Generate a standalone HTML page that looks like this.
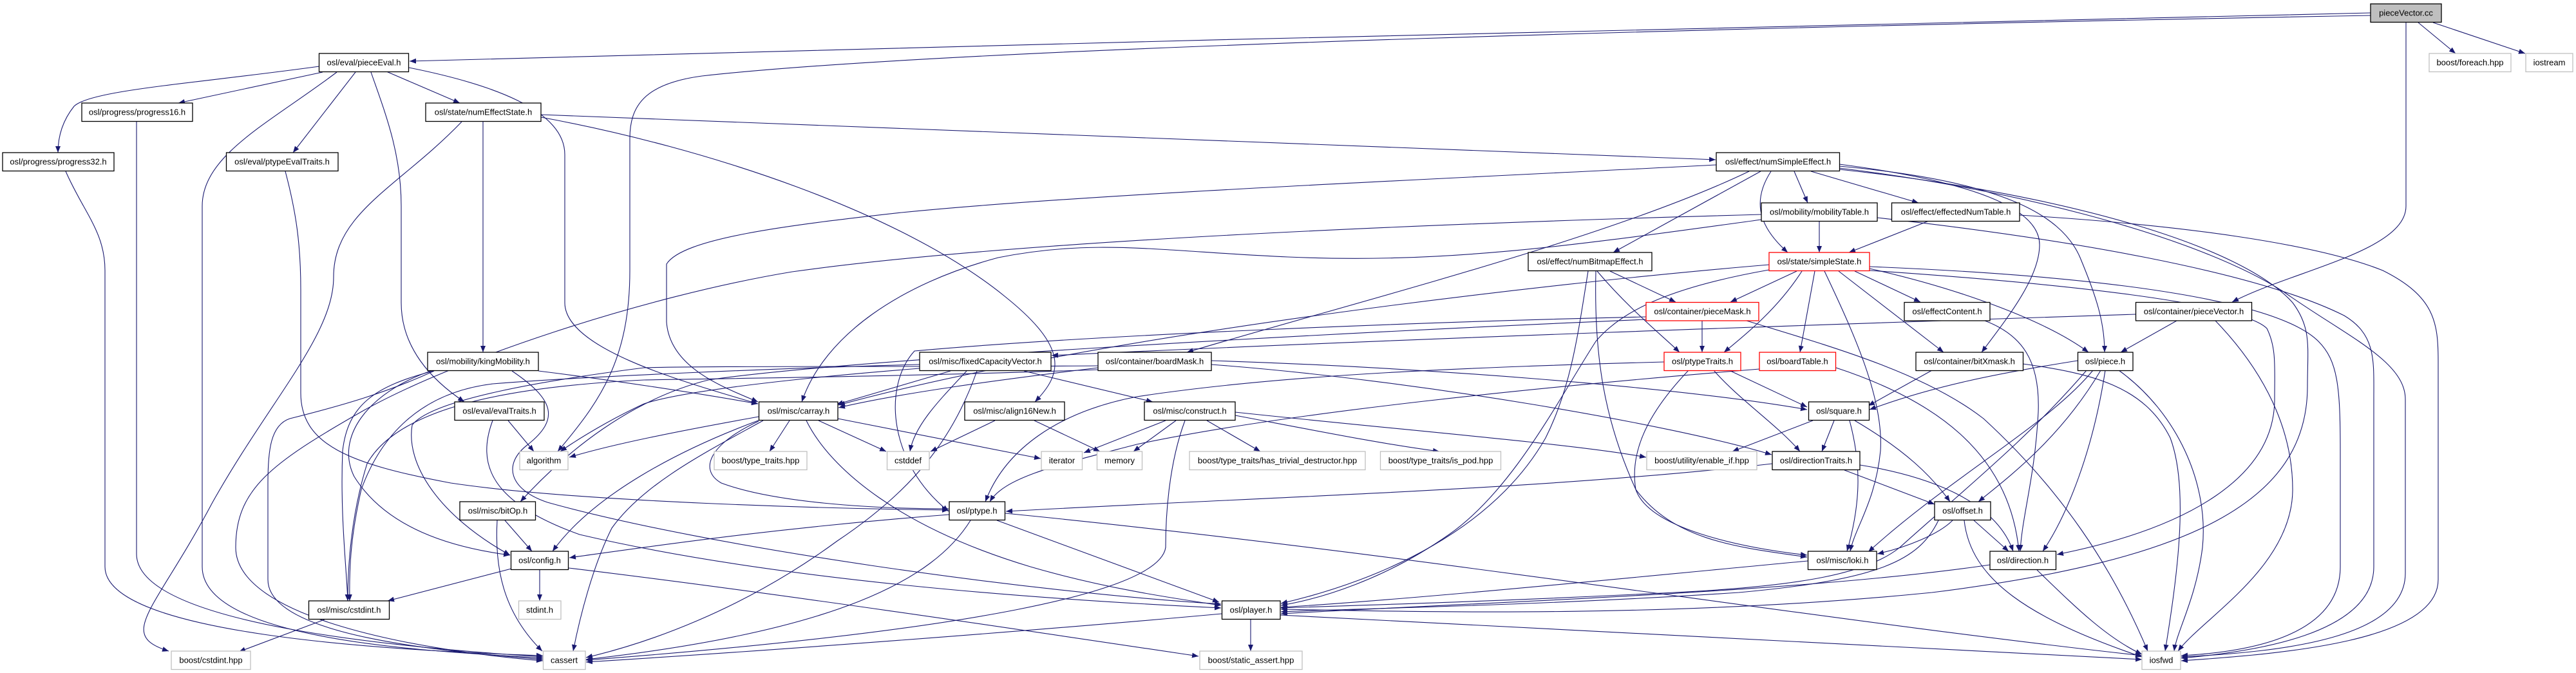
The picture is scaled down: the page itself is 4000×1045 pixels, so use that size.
<!DOCTYPE html>
<html>
<head>
<meta charset="utf-8">
<style>
html,body{margin:0;padding:0;background:#ffffff;}
svg{display:block;}
text{font-family:"Liberation Sans",Arial,sans-serif;font-size:13px;fill:#000;}
</style>
</head>
<body>
<svg width="4000" height="1045" viewBox="0 0 4000 1045" xmlns="http://www.w3.org/2000/svg">
<defs>
<marker id="a" markerWidth="11" markerHeight="8" refX="10" refY="4" orient="auto" markerUnits="userSpaceOnUse">
<path d="M0,0 L10,4 L0,8 z" fill="#191970"/>
</marker>
</defs>
<rect x="0" y="0" width="4000" height="1045" fill="#ffffff"/>
<g fill="none" stroke="#191970" stroke-width="1.1" marker-end="url(#a)">
<!-- pieceVector.cc -->
<path d="M3681,20 C2900,33 1600,70 636,95"/>
<path d="M3681,24 C2800,40 1500,72 1090,118 C1000,130 978,165 978,215 L978,420 C978,560 930,625 866,701"/>
<path d="M3755,35 L3813,83"/>
<path d="M3778,35 L3921,83"/>
<path d="M3736,35 L3736,320 C3736,390 3560,420 3466,469"/>
<!-- pieceEval -->
<path d="M496,103 C300,130 140,140 115,165 C95,190 90,215 90,237"/>
<path d="M501,112 L277,160"/>
<path d="M523,112 C420,190 314,240 314,320 L314,880 C314,1000 700,1012 843,1022"/>
<path d="M552,112 L455,237"/>
<path d="M576,112 C600,180 623,240 623,320 L623,470 C623,540 670,590 721,624"/>
<path d="M600,111 L714,160"/>
<path d="M635,105 C760,130 877,170 877,240 L877,470 C877,540 1050,590 1177,627"/>
<!-- numEffectState -->
<path d="M840,178 L2664,248"/>
<path d="M840,182 C1100,230 1400,330 1560,460 C1660,540 1650,580 1607,624"/>
<path d="M750,189 L750,547"/>
<path d="M717,189 C620,290 518,330 518,430 C518,520 420,620 330,780 C240,950 180,985 262,1011"/>
<!-- progress -->
<path d="M212,189 L212,860 C212,970 620,1005 843,1020"/>
<path d="M102,266 C130,330 163,360 163,420 L163,880 C163,985 600,1010 843,1018"/>
<!-- ptypeEvalTraits -->
<path d="M443,266 C460,330 467,380 467,450 L467,610 C467,690 540,720 700,750 C900,780 1300,790 1473,792"/>
<!-- mobilityTable -->
<path d="M2825,343 L2825,392"/>
<path d="M2735,333 C2300,345 1600,370 1230,422 C1000,460 700,560 560,640 C420,720 366,760 366,850 C366,960 650,1010 843,1026"/>
<path d="M2735,341 C2450,380 2250,410 2000,399 C1800,390 1700,370 1550,400 C1400,440 1280,520 1245,624"/>
<path d="M2915,338 C3200,370 3500,420 3640,490 C3690,520 3686,560 3686,620 L3686,880 C3686,985 3500,1012 3387,1022"/>
<!-- effectedNumTable -->
<path d="M2995,343 L2871,392"/>
<path d="M3136,334 C3400,350 3600,380 3700,420 C3780,460 3786,500 3786,560 L3786,900 C3786,995 3550,1015 3387,1026"/>
<!-- numSimpleEffect -->
<path d="M2786,266 L2807,315"/>
<path d="M2812,266 L2979,315"/>
<path d="M2750,266 C2715,320 2740,360 2776,392"/>
<path d="M2734,266 L2505,392"/>
<path d="M2716,266 C2500,370 2100,470 1843,547"/>
<path d="M2665,256 C2300,275 1700,300 1400,330 C1220,350 1060,370 1035,410 L1035,500 C1040,570 1120,600 1177,624"/>
<path d="M2856,255 C3050,280 3167,320 3167,380 C3167,430 3120,490 3077,547"/>
<path d="M2856,258 C3100,280 3200,330 3230,400 C3255,460 3268,500 3268,547"/>
<path d="M2856,261 C3100,290 3400,360 3546,453 C3640,520 3735,560 3735,620 L3735,890 C3735,990 3550,1012 3387,1020"/>
<path d="M2856,263 C3200,300 3480,380 3560,470 C3590,510 3583,540 3583,600 C3583,780 3400,870 3000,920 C2600,960 2200,950 1989,946"/>
<!-- simpleState -->
<path d="M2790,421 L2687,469"/>
<path d="M2798,421 C2760,480 2710,520 2677,547"/>
<path d="M2818,421 L2795,547"/>
<path d="M2833,421 C2880,520 2925,620 2920,700 C2912,780 2880,820 2873,856"/>
<path d="M2855,421 L3018,547"/>
<path d="M2880,421 L2982,469"/>
<path d="M2903,417 C3050,450 3180,500 3243,547"/>
<path d="M2747,411 C2400,440 1700,520 1302,629"/>
<path d="M2747,419 C2600,445 2520,480 2478,530 C2420,620 2350,760 2250,830 C2150,900 2050,930 1989,940"/>
<path d="M2903,420 C3200,440 3480,470 3520,510 C3535,540 3532,570 3532,620 C3532,740 3400,820 3194,861"/>
<path d="M2903,414 C3300,430 3540,470 3600,530 C3630,560 3634,600 3634,700 L3634,880 C3634,985 3500,1012 3387,1018"/>
<!-- numBitmapEffect -->
<path d="M2500,421 L2602,469"/>
<path d="M2480,421 C2530,480 2580,520 2608,547"/>
<path d="M2466,421 C2450,520 2440,600 2400,680 C2320,820 2150,900 1989,937"/>
<path d="M2478,421 C2475,550 2490,650 2540,760 C2600,840 2700,850 2806,865"/>
<!-- pieceMask -->
<path d="M2643,498 L2643,547"/>
<path d="M2556,492 C2200,500 1700,520 1420,545 C1370,600 1380,720 1473,794"/>
<path d="M2556,496 C2000,520 1300,560 1100,590 C980,620 880,700 808,779"/>
<path d="M2712,498 C2850,540 2990,580 3080,650 C3200,760 3280,880 3335,1011"/>
<!-- pieceVector.h -->
<path d="M3380,498 L3293,547"/>
<path d="M3316,488 C2800,505 2200,525 1633,552"/>
<path d="M3440,498 C3500,560 3560,650 3560,760 C3560,880 3420,960 3382,1011"/>
<!-- effectContent -->
<path d="M3082,498 C3140,520 3168,560 3165,640 C3160,740 3140,800 3137,856"/>
<!-- ptypeTraits -->
<path d="M2685,575 L2806,632"/>
<path d="M2661,575 C2700,620 2760,660 2795,701"/>
<path d="M2622,575 C2560,640 2530,700 2540,760 C2560,820 2700,850 2806,862"/>
<path d="M2584,562 C2300,570 2000,580 1765,616 C1640,640 1560,700 1530,779"/>
<!-- boardTable -->
<path d="M2851,571 C3000,620 3120,700 3135,856"/>
<path d="M2732,573 C2400,600 2000,640 1765,690 C1650,720 1560,740 1537,779"/>
<!-- bitXmask -->
<path d="M3000,575 L2901,630"/>
<path d="M3141,565 C3250,580 3330,600 3370,680 C3400,760 3380,900 3362,1011"/>
<!-- piece -->
<path d="M3226,560 C3100,580 3000,600 2903,636"/>
<path d="M3262,575 C3200,680 3120,740 3072,779"/>
<path d="M3250,575 C3180,660 3030,740 2901,857"/>
<path d="M3269,575 C3250,700 3210,800 3172,856"/>
<path d="M3240,575 C3150,680 3050,760 2950,850 C2900,890 2800,910 2600,920 C2300,935 2100,940 1989,944"/>
<path d="M3290,575 C3380,640 3430,750 3420,850 C3410,930 3380,980 3376,1011"/>
<!-- square -->
<path d="M2815,653 L2690,701"/>
<path d="M2848,653 L2829,701"/>
<path d="M2872,653 C2890,720 2890,780 2868,856"/>
<path d="M2880,653 C2960,700 3000,740 3028,779"/>
<!-- directionTraits -->
<path d="M2752,720 C2400,760 2000,770 1562,794"/>
<path d="M2864,730 L3004,783"/>
<path d="M2888,722 C3000,740 3100,780 3126,856"/>
<!-- offset -->
<path d="M3065,808 L3119,856"/>
<path d="M3032,808 C3010,830 2960,850 2915,860"/>
<path d="M3010,808 C2980,870 2920,900 2700,920 C2400,940 2100,945 1989,950"/>
<path d="M3050,808 C3060,900 3150,960 3326,1020"/>
<!-- direction -->
<path d="M3163,885 C3220,940 3270,990 3326,1016"/>
<path d="M3090,877 C2800,920 2300,935 1989,953"/>
<!-- loki -->
<path d="M2807,871 C2500,900 2200,930 1989,943"/>
<!-- ptype -->
<path d="M1474,799 C1200,820 1000,850 884,866"/>
<path d="M1507,808 C1450,900 1300,980 910,1024"/>
<path d="M1548,808 L1893,935"/>
<path d="M1561,797 C2200,860 2800,960 3326,1018"/>
<!-- player -->
<path d="M1942,962 L1942,1011"/>
<path d="M1897,953 C1600,980 1200,1010 910,1028"/>
<path d="M1988,955 C2500,980 3000,1010 3326,1024"/>
<!-- carray -->
<path d="M1226,653 L1195,701"/>
<path d="M1271,653 L1376,701"/>
<path d="M1301,650 L1616,712"/>
<path d="M1178,647 C1050,670 950,690 884,710"/>
<path d="M1178,654 C1100,690 1085,730 1120,750 C1200,780 1350,790 1473,790"/>
<path d="M1180,652 C1050,700 920,770 858,856"/>
<path d="M1252,653 C1290,730 1400,820 1600,880 C1720,915 1830,930 1896,940"/>
<path d="M1185,653 C1100,700 1000,750 950,820 C920,880 900,960 890,1011"/>
<!-- fixedCapacityVector -->
<path d="M1476,576 L1299,628"/>
<path d="M1501,576 C1460,620 1420,660 1413,701"/>
<path d="M1590,576 L1790,624"/>
<path d="M1517,576 C1480,680 1420,760 1300,840 C1150,950 1000,1000 910,1021"/>
<path d="M1428,566 C1200,572 900,585 765,596 C650,610 590,680 561,760 C545,830 542,880 543,933"/>
<path d="M1428,572 C1200,590 1050,610 1000,627 C950,650 900,680 870,701"/>
<!-- boardMask -->
<path d="M1705,571 C1550,590 1400,610 1302,633"/>
<path d="M1705,568 C1400,570 1100,568 1000,571 C850,590 670,620 640,660 C630,720 680,800 792,862"/>
<path d="M1705,574 C1400,585 1100,588 1000,590 C800,600 620,630 570,720 C545,800 540,880 540,933"/>
<path d="M1881,560 C2200,570 2600,600 2806,636"/>
<path d="M1881,566 C2200,590 2600,660 2751,706"/>
<!-- construct -->
<path d="M1810,653 L1683,703"/>
<path d="M1826,653 L1760,701"/>
<path d="M1874,653 L1957,701"/>
<path d="M1918,645 C2050,670 2150,690 2235,701"/>
<path d="M1918,640 C2200,670 2450,690 2556,710"/>
<path d="M1840,653 C1815,720 1810,800 1810,850 C1800,920 1500,980 910,1025"/>
<!-- align16New -->
<path d="M1545,653 L1445,701"/>
<path d="M1606,653 L1708,701"/>
<!-- evalTraits -->
<path d="M789,653 L829,701"/>
<path d="M765,653 C740,720 760,780 900,830 C1200,900 1600,930 1896,944"/>
<!-- kingMobility -->
<path d="M674,576 C600,610 530,630 450,650 C420,660 416,700 416,750 L416,900 C416,990 700,1012 843,1024"/>
<path d="M673,576 C580,600 540,630 532,700 C528,800 538,880 540,933"/>
<path d="M669,576 C570,610 520,680 550,740 C600,820 700,850 792,862"/>
<path d="M795,576 C860,620 870,650 820,690 C780,720 790,760 850,780 C1100,850 1600,920 1896,938"/>
<path d="M836,576 C950,590 1080,610 1177,627"/>
<!-- bitOp -->
<path d="M784,808 L826,856"/>
<path d="M772,808 C768,880 780,950 842,1011"/>
<!-- config -->
<path d="M838,885 L838,933"/>
<path d="M794,883 L602,933"/>
<path d="M883,882 C1200,920 1600,980 1861,1019"/>
<!-- cstdint -->
<path d="M504,962 L371,1012"/>
</g>

<!-- nodes: internal -->
<g fill="#ffffff" stroke="#000000" stroke-width="1.3">
<rect x="3681" y="6" width="110" height="28.5" fill="#bfbfbf"/>
<rect x="495.5" y="83" width="139" height="28.5"/>
<rect x="127" y="160" width="172" height="28.5"/>
<rect x="661" y="160" width="179" height="28.5"/>
<rect x="4" y="237" width="173" height="28.5"/>
<rect x="351.5" y="237" width="173.5" height="28.5"/>
<rect x="2665" y="237" width="191.5" height="28.5"/>
<rect x="2735" y="315" width="180" height="28.5"/>
<rect x="2937.5" y="315" width="198.5" height="28.5"/>
<rect x="2373" y="392" width="192" height="28.5"/>
<rect x="2957" y="469.5" width="133" height="28.5"/>
<rect x="3316.5" y="469.5" width="180" height="28.5"/>
<rect x="664" y="547" width="172" height="28.5"/>
<rect x="1428" y="547" width="204" height="28.5"/>
<rect x="1705" y="547" width="176" height="28.5"/>
<rect x="2975" y="547" width="166.5" height="28.5"/>
<rect x="3226.5" y="547" width="85.5" height="28.5"/>
<rect x="706" y="624" width="139" height="28.5"/>
<rect x="1178.5" y="624" width="122.5" height="28.5"/>
<rect x="1498" y="624" width="155" height="28.5"/>
<rect x="1777" y="624" width="141" height="28.5"/>
<rect x="2808.5" y="624" width="94" height="28.5"/>
<rect x="2752" y="701" width="136" height="28.5"/>
<rect x="714" y="779" width="117.5" height="28.5"/>
<rect x="1474" y="779" width="86.5" height="28.5"/>
<rect x="3004" y="779" width="87" height="28.5"/>
<rect x="793.5" y="856" width="89" height="28.5"/>
<rect x="2807.5" y="856" width="106.5" height="28.5"/>
<rect x="3090" y="856" width="102.5" height="28.5"/>
<rect x="479.5" y="933" width="125" height="28.5"/>
<rect x="1897.5" y="933" width="90.5" height="28.5"/>
</g>
<!-- nodes: truncated (red) -->
<g fill="#ffffff" stroke="#ff0000" stroke-width="1.3">
<rect x="2747" y="392" width="156" height="28.5"/>
<rect x="2556" y="469.5" width="175" height="28.5"/>
<rect x="2584" y="547" width="119" height="28.5"/>
<rect x="2732" y="547" width="118.5" height="28.5"/>
</g>
<!-- nodes: external -->
<g fill="#ffffff" stroke="#bfbfbf" stroke-width="1.3">
<rect x="3772" y="83" width="127" height="28.5"/>
<rect x="3922" y="83" width="73" height="28.5"/>
<rect x="807" y="701" width="75" height="28.5"/>
<rect x="1109" y="701" width="144" height="28.5"/>
<rect x="1377.5" y="701" width="65.5" height="28.5"/>
<rect x="1617" y="701" width="63.5" height="28.5"/>
<rect x="1703.5" y="701" width="70" height="28.5"/>
<rect x="1847" y="701" width="273" height="28.5"/>
<rect x="2143.5" y="701" width="187" height="28.5"/>
<rect x="2557" y="701" width="171" height="28.5"/>
<rect x="805.5" y="933" width="65.5" height="28.5"/>
<rect x="266" y="1011" width="123" height="28.5"/>
<rect x="843.5" y="1011" width="65.5" height="28.5"/>
<rect x="1863" y="1011" width="159" height="28.5"/>
<rect x="3326" y="1011" width="60" height="28.5"/>
</g>

<g text-anchor="middle">
<text x="3736" y="24.5">pieceVector.cc</text>
<text x="565" y="101.5">osl/eval/pieceEval.h</text>
<text x="3835.5" y="101.5">boost/foreach.hpp</text>
<text x="3958.5" y="101.5">iostream</text>
<text x="213" y="178.5">osl/progress/progress16.h</text>
<text x="750.5" y="178.5">osl/state/numEffectState.h</text>
<text x="90.5" y="255.5">osl/progress/progress32.h</text>
<text x="438" y="255.5">osl/eval/ptypeEvalTraits.h</text>
<text x="2761" y="255.5">osl/effect/numSimpleEffect.h</text>
<text x="2825" y="333.5">osl/mobility/mobilityTable.h</text>
<text x="3037" y="333.5">osl/effect/effectedNumTable.h</text>
<text x="2469" y="410.5">osl/effect/numBitmapEffect.h</text>
<text x="2825" y="410.5">osl/state/simpleState.h</text>
<text x="2643.5" y="488">osl/container/pieceMask.h</text>
<text x="3023.5" y="488">osl/effectContent.h</text>
<text x="3406.5" y="488">osl/container/pieceVector.h</text>
<text x="750" y="565.5">osl/mobility/kingMobility.h</text>
<text x="1530" y="565.5">osl/misc/fixedCapacityVector.h</text>
<text x="1793" y="565.5">osl/container/boardMask.h</text>
<text x="2643.5" y="565.5">osl/ptypeTraits.h</text>
<text x="2791" y="565.5">osl/boardTable.h</text>
<text x="3058" y="565.5">osl/container/bitXmask.h</text>
<text x="3269" y="565.5">osl/piece.h</text>
<text x="775.5" y="642.5">osl/eval/evalTraits.h</text>
<text x="1240" y="642.5">osl/misc/carray.h</text>
<text x="1575.5" y="642.5">osl/misc/align16New.h</text>
<text x="1847.5" y="642.5">osl/misc/construct.h</text>
<text x="2855.5" y="642.5">osl/square.h</text>
<text x="844.5" y="719.5">algorithm</text>
<text x="1181" y="719.5">boost/type_traits.hpp</text>
<text x="1410" y="719.5">cstddef</text>
<text x="1649" y="719.5">iterator</text>
<text x="1738.5" y="719.5">memory</text>
<text x="1983.5" y="719.5">boost/type_traits/has_trivial_destructor.hpp</text>
<text x="2237" y="719.5">boost/type_traits/is_pod.hpp</text>
<text x="2642.5" y="719.5">boost/utility/enable_if.hpp</text>
<text x="2820" y="719.5">osl/directionTraits.h</text>
<text x="773" y="797.5">osl/misc/bitOp.h</text>
<text x="1517" y="797.5">osl/ptype.h</text>
<text x="3047.5" y="797.5">osl/offset.h</text>
<text x="838" y="874.5">osl/config.h</text>
<text x="2861" y="874.5">osl/misc/loki.h</text>
<text x="3141" y="874.5">osl/direction.h</text>
<text x="542" y="951.5">osl/misc/cstdint.h</text>
<text x="838" y="951.5">stdint.h</text>
<text x="1942.5" y="951.5">osl/player.h</text>
<text x="327.5" y="1029.5">boost/cstdint.hpp</text>
<text x="876" y="1029.5">cassert</text>
<text x="1942.5" y="1029.5">boost/static_assert.hpp</text>
<text x="3356" y="1029.5">iosfwd</text>
</g>
</svg>
</body>
</html>
